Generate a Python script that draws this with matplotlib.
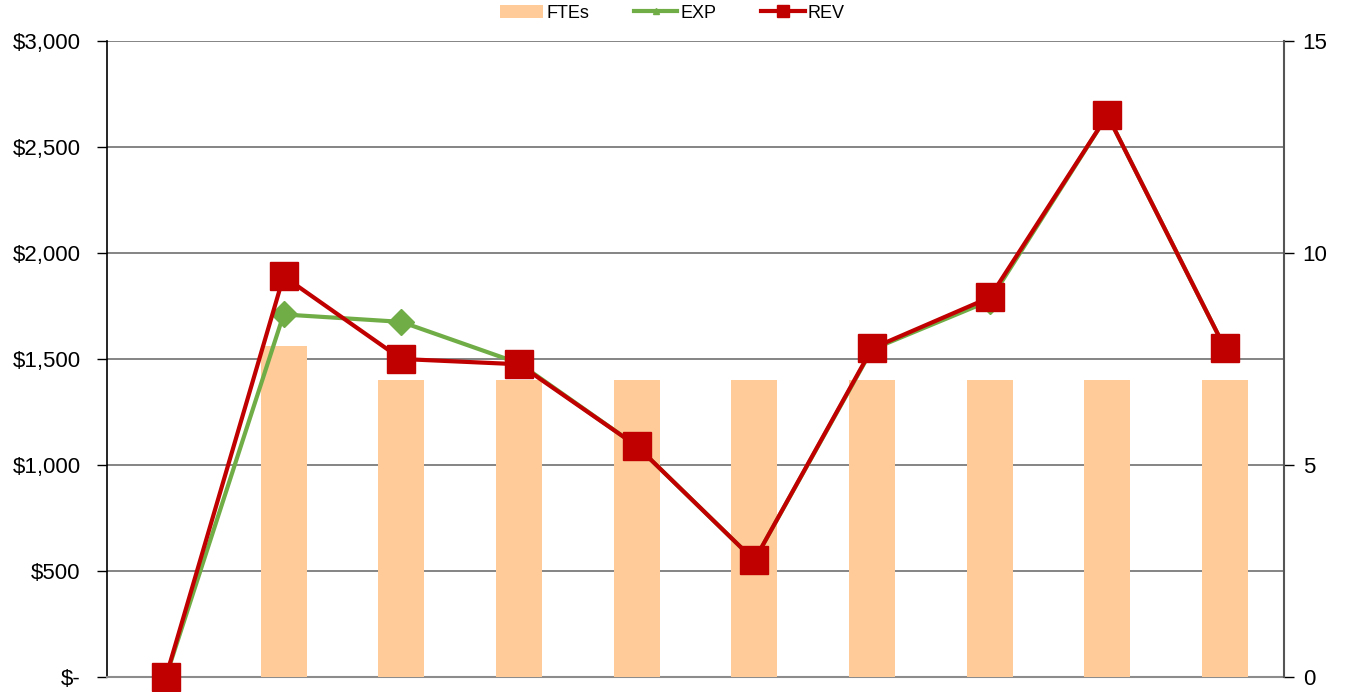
import numpy as np
from matplotlib import pyplot as plt
from matplotlib import rc
from matplotlib.lines import Line2D
from matplotlib.patches import Patch
from matplotlib.ticker import FuncFormatter

rc('font', family=['Liberation Sans', 'DejaVu Sans'], size=16)

# data
periods = np.arange(10)
ftes = [0, 7.8, 7.0, 7.0, 7.0, 7.0, 7.0, 7.0, 7.0, 7.0]
exp = [0, 1710, 1675, 1480, 1090, 550, 1545, 1775, 2650, 1550]
rev = [0, 1890, 1500, 1475, 1090, 550, 1550, 1790, 2650, 1550]

bar_color = '#FFCC99'
exp_color = '#70AD47'
rev_color = '#C00000'


def money(v, pos):
    if v == 0:
        return '$-'
    return '${:,.0f}'.format(v)


fig = plt.figure(figsize=(13.45, 6.92), dpi=100)
ax = fig.add_axes([0.0796, 0.0217, 0.8750, 0.9191])

# left axis: grid + labels
ax.set_xlim(-0.5, 9.5)
ax.set_ylim(0, 3000)
ax.set_yticks(np.arange(0, 3001, 500))
ax.yaxis.set_major_formatter(FuncFormatter(money))
ax.grid(axis='y', color='#6f6f6f', linewidth=1.2)
ax.set_axisbelow(True)
ax.set_xticks([])
ax.tick_params(axis='y', direction='out', length=7, width=1, pad=12, colors='black')
ax.spines['top'].set_visible(False)
ax.spines['right'].set_visible(False)
ax.spines['bottom'].set_color('#8c8c8c')
ax.spines['bottom'].set_linewidth(1.5)
ax.spines['left'].set_color('black')
ax.spines['left'].set_linewidth(1.2)

# right axis: FTE bars
ax_bar = ax.twinx()
ax_bar.bar(periods, ftes, width=0.39, color=bar_color, zorder=2)
ax_bar.set_ylim(0, 15)
ax_bar.set_yticks([0, 5, 10, 15])
ax_bar.tick_params(axis='y', direction='out', length=7, width=1, pad=6.5)
for s in ['top', 'left', 'bottom']:
    ax_bar.spines[s].set_visible(False)
ax_bar.spines['right'].set_color('#555555')
ax_bar.spines['right'].set_linewidth(1.5)

# lines on top of bars, sharing the dollar scale
ax_line = ax.twinx()
ax_line.set_ylim(0, 3000)
ax_line.axis('off')
ax_line.plot(periods, exp, color=exp_color, linewidth=3, marker='D',
             markersize=13, clip_on=False, zorder=3)
ax_line.plot(periods, rev, color=rev_color, linewidth=3, marker='s',
             markersize=20, clip_on=False, zorder=4)

handles = [
    Patch(facecolor=bar_color, edgecolor='none'),
    Line2D([], [], color=exp_color, linewidth=3, marker='^', markersize=5),
    Line2D([], [], color=rev_color, linewidth=3, marker='s', markersize=9),
]
fig.legend(handles, ['FTEs', 'EXP', 'REV'], loc='center', ncol=3,
           bbox_to_anchor=(0.4998, 0.981), frameon=False, fontsize=13,
           handlelength=2.4, handletextpad=0.15, columnspacing=2.5,
           handleheight=0.8)

plt.savefig('out.png', dpi=100)
